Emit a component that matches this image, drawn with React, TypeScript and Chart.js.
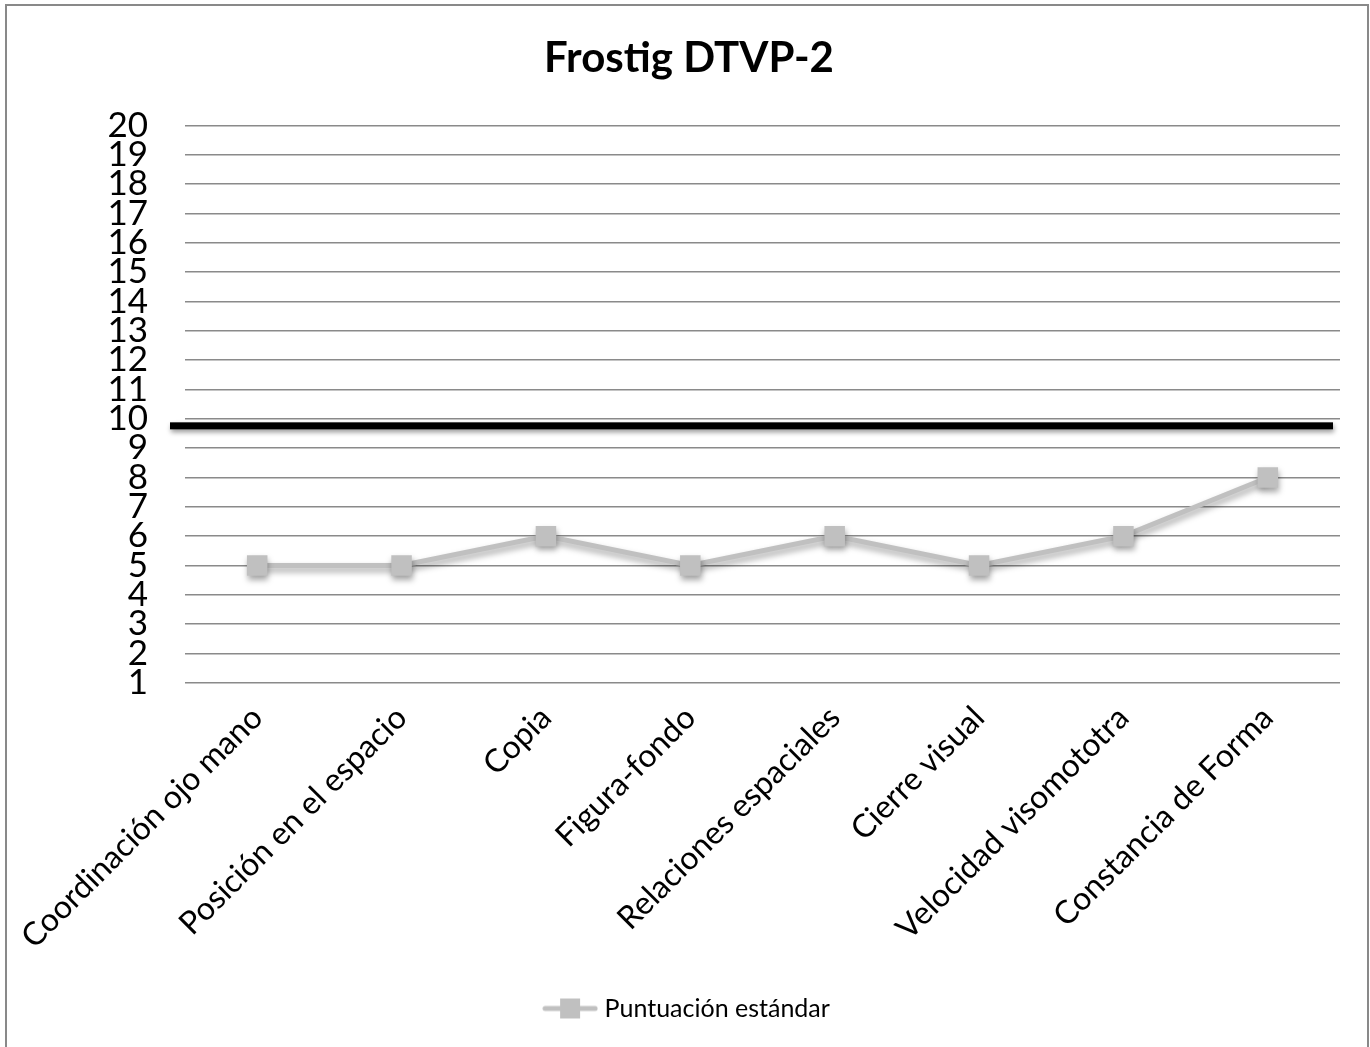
import React, { useEffect, useRef } from "react";
import { Chart, registerables } from "chart.js";

Chart.register(...registerables);

const categories = [
  "Coordinación ojo mano",
  "Posición en el espacio",
  "Copia",
  "Figura-fondo",
  "Relaciones espaciales",
  "Cierre visual",
  "Velocidad visomototra",
  "Constancia de Forma",
];
const seriesName = "Puntuación estándar";
const seriesValues = [5, 5, 6, 5, 6, 5, 6, 8];
const referenceValue = 9.76;
const yMin = 1;
const yMax = 20;
const chartTitle = "Frostig DTVP-2";

const FONT = "Lato, 'Open Sans', sans-serif";
const LINE_GRAY = "#c0c0c0";

function makeLegendIcon(): HTMLCanvasElement {
  const c = document.createElement("canvas");
  c.width = 56;
  c.height = 22;
  const g = c.getContext("2d")!;
  g.strokeStyle = LINE_GRAY;
  g.lineWidth = 5;
  g.lineCap = "round";
  g.beginPath();
  g.moveTo(3, 11);
  g.lineTo(53, 11);
  g.stroke();
  g.fillStyle = LINE_GRAY;
  g.fillRect(18, 1, 20, 20);
  return c;
}

const framePlugin = {
  id: "frame",
  beforeDraw(chart: any) {
    const ctx = chart.ctx;
    ctx.save();
    ctx.fillStyle = "#ffffff";
    ctx.fillRect(0, 0, chart.width, chart.height);
    ctx.strokeStyle = "#898989";
    ctx.lineWidth = 2;
    ctx.strokeRect(6, 5, 1362, 1100);
    ctx.restore();
  },
};

const shadowPlugin = {
  id: "seriesShadow",
  beforeDatasetDraw(chart: any) {
    const ctx = chart.ctx;
    ctx.save();
    ctx.shadowColor = "rgba(0,0,0,0.35)";
    ctx.shadowBlur = 6;
    ctx.shadowOffsetX = 1;
    ctx.shadowOffsetY = 4;
  },
  afterDatasetDraw(chart: any) {
    chart.ctx.restore();
  },
};

const referenceLinePlugin = {
  id: "referenceLine",
  afterDatasetsDraw(chart: any) {
    const { ctx, chartArea, scales } = chart;
    const y = scales.y.getPixelForValue(referenceValue);
    ctx.save();
    ctx.shadowColor = "rgba(0,0,0,0.4)";
    ctx.shadowBlur = 5;
    ctx.shadowOffsetX = 1;
    ctx.shadowOffsetY = 3;
    ctx.fillStyle = "#000000";
    ctx.fillRect(chartArea.left - 15, y - 3.5, chartArea.right - 7 - (chartArea.left - 15), 7);
    ctx.restore();
  },
};

export default function App() {
  const ref = useRef<HTMLCanvasElement | null>(null);

  useEffect(() => {
    if (!ref.current) return;
    const icon = makeLegendIcon();
    const chart = new Chart(ref.current, {
      type: "line",
      data: {
        labels: categories,
        datasets: [
          {
            label: seriesName,
            data: seriesValues,
            borderColor: LINE_GRAY,
            backgroundColor: LINE_GRAY,
            borderWidth: 5,
            pointStyle: "rect",
            pointRadius: 14.5,
            pointHoverRadius: 14.5,
            pointBackgroundColor: LINE_GRAY,
            pointBorderColor: LINE_GRAY,
            pointBorderWidth: 0,
            tension: 0,
          },
        ],
      },
      options: {
        responsive: false,
        animation: false,
        layout: { padding: { left: 38, right: 30, top: 0, bottom: 16 } },
        plugins: {
          title: {
            display: true,
            text: chartTitle,
            color: "#000",
            font: { family: FONT, size: 42, weight: "bold" },
            padding: { top: 33, bottom: 42 },
          },
          legend: {
            display: true,
            position: "bottom",
            labels: {
              usePointStyle: true,
              pointStyle: icon as any,
              pointStyleWidth: 44,
              color: "#000",
              font: { family: FONT, size: 25 },
              padding: 32,
            },
          },
          tooltip: { enabled: false },
        },
        scales: {
          x: {
            type: "category",
            offset: true,
            grid: { display: false },
            border: { display: false },
            ticks: {
              color: "#000",
              font: { family: FONT, size: 32 },
              minRotation: 45,
              maxRotation: 45,
              autoSkip: false,
              padding: 8,
            },
          },
          y: {
            type: "linear",
            min: yMin,
            max: yMax,
            afterFit: (scale: any) => {
              scale.width = 147;
            },
            grid: { color: "#8a8a8a", lineWidth: 1.5, drawTicks: false },
            border: { display: false },
            ticks: {
              stepSize: 1,
              autoSkip: false,
              color: "#000",
              font: { family: FONT, size: 35, lineHeight: 0.8 },
              padding: 37,
            },
          },
        },
      },
      plugins: [framePlugin, shadowPlugin, referenceLinePlugin],
    });
    return () => chart.destroy();
  }, []);

  return (
    <div style={{ position: "absolute", left: 0, top: 0, width: 1370, height: 1047 }}>
      <canvas ref={ref} width={1370} height={1047} style={{ display: "block" }} />
    </div>
  );
}
